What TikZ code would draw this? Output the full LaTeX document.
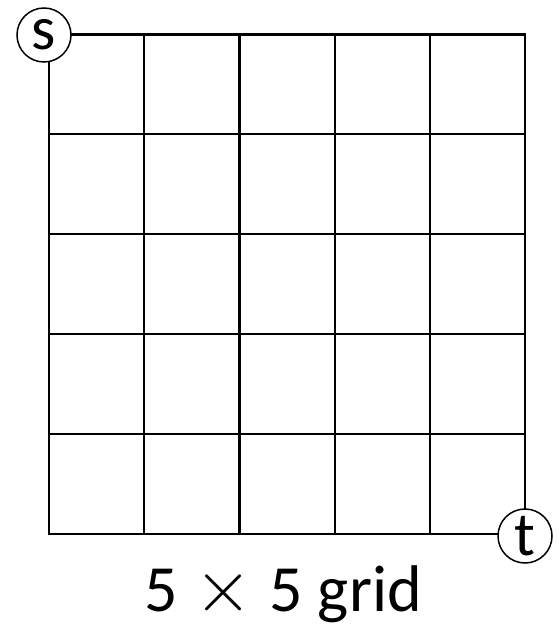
\documentclass[tikz,border=0pt]{standalone}
\usepackage{fontspec}
\usepackage{graphicx}
\setmainfont{Carlito}
\newcommand{\bigtimes}{\scalebox{3.0}{$\times$}}
\tikzset{
  gridline/.style={line width=2.2pt, black, line cap=rect},
  endpoint/.style={circle, draw, line width=1.5pt, fill=white, minimum size=54pt, inner sep=0pt, font=\fontsize{62}{70}\selectfont},
  caption/.style={font=\fontsize{66}{78}\selectfont, anchor=base, inner sep=0pt}
}
\begin{document}
\begin{tikzpicture}[x=1pt,y=-1pt]
\useasboundingbox (0,0) rectangle (559,628);
% columns and rows
\foreach \c in {49,144.2,239.4,334.6,429.8,525}{
  \draw[gridline] (\c,34.5) -- (\c,534);
}
\foreach \r in {34.5,134.4,234.3,334.2,434.1,534}{
  \draw[gridline] (49,\r) -- (525,\r);
}
\node[endpoint] (s) at (44,35) {s};
\node[endpoint] (t) at (525,536) {t};
\node[caption] (cap) at (283,611) {5\hspace{17pt}\bigtimes\hspace{17pt}5 grid};
\end{tikzpicture}
\end{document}
